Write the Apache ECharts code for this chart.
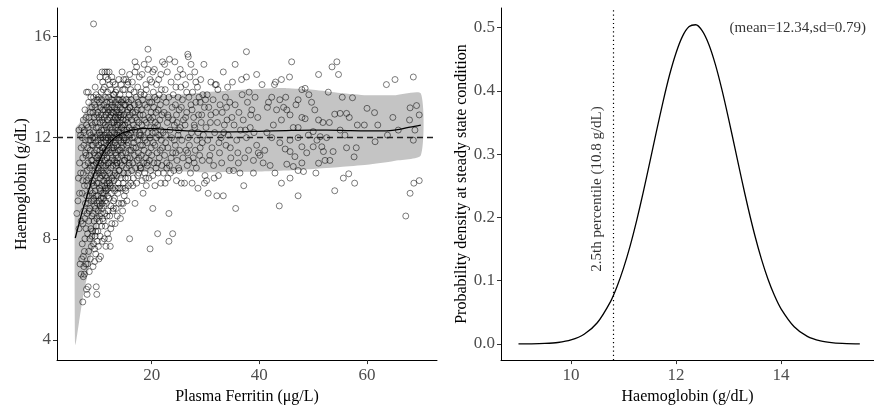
<!DOCTYPE html>
<html>
<head>
<meta charset="utf-8">
<script src="https://cdn.jsdelivr.net/npm/echarts@6/dist/echarts.min.js"></script>
<style>html,body{margin:0;padding:0;background:#fff}#c{width:874px;height:410px}</style>
</head>
<body>
<div id="c"></div>
<script>
// ---- Left panel: Plasma ferritin (µg/L) vs haemoglobin (g/dL) ----
const scatterPoints = [
[6.1,9.0],[6.3,9.5],[6.5,12.3],[6.6,11.0],[6.4,10.4],[6.8,12.1],[6.9,8.7],[6.7,7.0],[6.9,6.6],[7.0,7.2],[6.6,9.8],[6.8,10.6],[6.9,11.6],[7.0,12.4],[6.5,8.4],
[7.2,5.5],[7.3,6.5],[7.4,6.9],[7.1,7.8],[7.5,7.5],[7.6,8.0],[7.2,8.6],[7.8,8.4],[7.4,9.1],[7.7,9.4],[7.1,9.8],[7.5,10.1],[7.9,10.3],[7.3,10.6],[7.6,10.9],[7.2,11.2],[7.8,11.3],[7.4,11.7],[7.7,11.9],[7.1,12.0],[7.5,12.3],[7.9,12.5],[7.3,12.7],[7.8,12.8],[7.6,13.1],[7.9,13.8],[7.4,12.2],[7.7,11.4],[7.2,10.3],[7.9,9.7],[7.6,8.8],[7.3,7.3],[7.8,7.0],[7.5,6.6],[7.9,6.0],
[8.0,5.8],[8.2,6.1],[8.4,6.7],[8.1,7.0],[8.6,7.2],[8.3,7.5],[8.8,7.7],[8.5,8.0],[8.1,8.2],[8.7,8.4],[8.3,8.7],[8.9,8.9],[8.0,9.0],[8.5,9.2],[8.2,9.4],[8.8,9.5],[8.4,9.7],[8.6,9.9],[8.1,10.1],[8.9,10.2],[8.3,10.4],[8.7,10.5],[8.0,10.7],[8.5,10.8],[8.2,11.0],[8.8,11.1],[8.4,11.3],[8.6,11.5],[8.1,11.6],[8.9,11.7],[8.3,11.9],[8.7,12.1],[8.5,12.2],[8.2,12.4],[8.8,12.6],[8.4,12.8],[8.6,13.0],[8.9,13.2],[8.3,13.4],[8.7,13.6],[8.2,13.8],[8.6,11.9],[8.8,10.9],[8.4,9.1],[8.9,8.1],
[9.7,6.1],[9.8,5.8],[9.1,6.9],[9.4,7.1],[9.6,7.4],[9.2,7.8],[9.9,7.9],[9.5,8.1],[9.0,8.3],[9.7,8.5],[9.3,8.7],[9.8,8.8],[9.1,9.0],[9.6,9.2],[9.4,9.3],[9.9,9.4],[9.2,9.6],[9.7,9.7],[9.0,9.8],[9.5,9.9],[9.3,10.1],[9.8,10.2],[9.1,10.3],[9.6,10.5],[9.4,10.6],[9.9,10.7],[9.2,10.9],[9.7,11.0],[9.0,11.1],[9.5,11.3],[9.3,11.4],[9.8,11.5],[9.1,11.7],[9.6,11.8],[9.4,12.0],[9.9,12.1],[9.2,12.2],[9.7,12.4],[9.0,12.5],[9.5,12.6],[9.3,12.8],[9.8,12.9],[9.1,13.0],[9.6,13.2],[9.4,13.3],[9.9,13.5],[9.2,13.6],[9.7,13.7],[9.2,16.5],[9.5,14.0],[9.0,12.0],[9.8,11.2],[9.3,9.5],[9.6,8.3],[9.4,7.6],
[10.2,7.2],[10.5,7.3],[10.1,7.7],[10.8,7.9],[10.4,8.1],[10.0,8.3],[10.7,8.5],[10.3,8.7],[10.9,8.8],[10.6,9.0],[10.1,9.1],[10.4,9.3],[10.8,9.4],[10.2,9.5],[10.6,9.6],[10.0,9.7],[10.9,9.8],[10.5,9.9],[10.3,10.0],[10.7,10.1],[10.1,10.2],[10.4,10.4],[10.8,10.5],[10.2,10.6],[10.6,10.7],[10.0,10.8],[10.9,10.9],[10.5,11.0],[10.3,11.1],[10.7,11.2],[10.1,11.3],[10.4,11.5],[10.8,11.6],[10.2,11.7],[10.6,11.8],[10.0,11.9],[10.9,12.0],[10.5,12.1],[10.3,12.2],[10.7,12.3],[10.1,12.4],[10.4,12.6],[10.8,12.7],[10.2,12.8],[10.6,12.9],[10.0,13.0],[10.9,13.1],[10.5,13.2],[10.3,13.4],[10.7,13.5],[10.1,13.6],[10.6,13.8],[10.9,14.2],[10.4,14.4],[10.8,14.6],[10.5,12.0],[10.2,11.0],[10.7,9.2],[10.3,8.9],[10.9,11.4],
[11.5,7.7],[11.2,8.0],[11.8,8.2],[11.4,8.5],[11.0,8.7],[11.7,8.9],[11.3,9.0],[11.9,9.1],[11.1,9.3],[11.6,9.4],[11.4,9.5],[11.0,9.6],[11.8,9.7],[11.2,9.8],[11.5,9.9],[11.9,10.0],[11.3,10.1],[11.7,10.2],[11.1,10.3],[11.6,10.4],[11.4,10.5],[11.0,10.6],[11.8,10.7],[11.2,10.8],[11.5,10.9],[11.9,11.0],[11.3,11.1],[11.7,11.2],[11.1,11.3],[11.6,11.4],[11.4,11.5],[11.0,11.6],[11.8,11.7],[11.2,11.8],[11.5,11.9],[11.9,12.0],[11.3,12.1],[11.7,12.2],[11.1,12.3],[11.6,12.4],[11.4,12.5],[11.0,12.6],[11.8,12.7],[11.2,12.8],[11.5,12.9],[11.9,13.0],[11.3,13.1],[11.7,13.2],[11.1,13.3],[11.6,13.4],[11.4,13.6],[11.8,13.8],[11.2,14.0],[11.5,14.4],[11.7,14.6],[11.3,14.6],[11.9,14.3],[11.0,13.9],[11.6,12.0],[11.4,10.0],
[12.3,7.7],[12.0,8.0],[12.6,8.6],[12.2,8.9],[12.8,9.1],[12.4,9.3],[12.9,9.5],[12.1,9.6],[12.5,9.8],[12.7,10.0],[12.3,10.1],[12.0,10.3],[12.6,10.4],[12.9,10.5],[12.2,10.6],[12.4,10.8],[12.8,10.9],[12.1,11.0],[12.5,11.1],[12.7,11.2],[12.3,11.4],[12.0,11.5],[12.6,11.6],[12.9,11.7],[12.2,11.8],[12.4,11.9],[12.8,12.0],[12.1,12.1],[12.5,12.2],[12.7,12.3],[12.3,12.4],[12.0,12.5],[12.6,12.6],[12.9,12.7],[12.2,12.8],[12.4,12.9],[12.8,13.0],[12.1,13.1],[12.5,13.2],[12.7,13.3],[12.3,13.4],[12.6,13.5],[12.0,13.6],[12.9,13.7],[12.4,13.9],[12.2,14.1],[12.8,14.2],[12.6,14.4],[12.1,14.6],[12.5,12.0],[12.7,11.5],[12.2,10.2],[12.9,9.2],[12.4,8.4],[12.6,13.0],
[13.2,8.6],[13.6,8.9],[13.4,9.2],[13.9,9.4],[13.1,9.6],[13.7,9.8],[13.3,10.0],[13.8,10.2],[13.0,10.3],[13.5,10.5],[13.2,10.6],[13.9,10.7],[13.4,10.9],[13.6,11.0],[13.1,11.1],[13.7,11.2],[13.3,11.4],[13.8,11.5],[13.0,11.6],[13.5,11.7],[13.2,11.8],[13.9,11.9],[13.4,12.0],[13.6,12.1],[13.1,12.2],[13.7,12.3],[13.3,12.4],[13.8,12.5],[13.0,12.6],[13.5,12.7],[13.2,12.8],[13.9,12.9],[13.4,13.0],[13.6,13.1],[13.1,13.2],[13.7,13.3],[13.3,13.4],[13.8,13.5],[13.0,13.7],[13.5,13.9],[13.2,14.1],[13.9,14.3],[13.6,12.5],[13.4,11.3],[13.8,10.0],[13.1,9.9],[13.7,12.8],[13.3,13.8],[13.5,11.0],[13.9,12.2],
[14.2,8.8],[14.6,9.1],[14.4,9.4],[14.9,9.7],[14.1,10.0],[14.7,10.2],[14.3,10.4],[14.8,10.6],[14.0,10.7],[14.5,10.9],[14.2,11.0],[14.9,11.1],[14.4,11.3],[14.6,11.4],[14.1,11.5],[14.7,11.7],[14.3,11.8],[14.8,11.9],[14.0,12.0],[14.5,12.1],[14.2,12.2],[14.9,12.3],[14.4,12.4],[14.6,12.5],[14.1,12.6],[14.7,12.7],[14.3,12.8],[14.8,12.9],[14.0,13.0],[14.5,13.1],[14.2,13.2],[14.9,13.3],[14.4,13.4],[14.6,13.5],[14.1,13.7],[14.7,13.9],[14.3,14.1],[14.8,14.3],[14.5,14.6],[14.6,10.0],[14.2,12.9],[14.8,12.0],[14.4,11.6],[14.0,13.5],[14.7,9.4],
[15.4,9.5],[15.9,8.0],[15.2,9.9],[15.7,10.1],[15.1,10.4],[15.6,10.6],[15.3,10.8],[15.8,10.9],[15.0,11.1],[15.5,11.2],[15.2,11.4],[15.9,11.5],[15.4,11.7],[15.6,11.8],[15.1,12.0],[15.7,12.1],[15.3,12.2],[15.8,12.4],[15.0,12.5],[15.5,12.6],[15.2,12.7],[15.9,12.9],[15.4,13.0],[15.6,13.1],[15.1,13.3],[15.7,13.4],[15.3,13.5],[15.8,13.7],[15.0,13.9],[15.5,14.1],[15.2,14.3],[15.9,14.5],[15.6,14.2],[15.4,12.3],[15.8,11.0],[15.1,10.0],[15.7,12.8],[15.3,11.9],[15.6,10.4],[15.9,13.2],
[16.9,9.4],[16.1,10.2],[17.2,10.2],[16.6,10.4],[17.6,10.6],[16.3,10.7],[17.0,10.8],[17.8,10.9],[16.5,11.0],[17.3,11.1],[16.0,11.2],[16.8,11.3],[17.5,11.4],[16.2,11.5],[17.1,11.6],[17.9,11.7],[16.7,11.8],[17.4,11.9],[16.4,12.0],[17.7,12.1],[16.1,12.2],[16.9,12.3],[17.2,12.4],[16.6,12.5],[17.6,12.6],[16.3,12.7],[17.0,12.8],[17.8,12.9],[16.5,13.0],[17.3,13.1],[16.0,13.2],[16.8,13.3],[17.5,13.4],[16.2,13.5],[17.1,13.6],[17.9,13.7],[16.7,13.8],[17.4,14.0],[16.4,14.2],[17.7,14.4],[16.9,14.6],[17.2,14.8],[16.9,15.0],[17.6,11.2],[16.3,12.3],[17.0,13.0],[17.8,12.2],[16.6,11.6],[17.4,10.5],[16.1,13.9],[17.9,10.8],[16.8,12.0],[17.3,12.7],[16.5,10.1],[17.6,13.3],
[19.7,7.6],[18.4,9.8],[19.0,10.1],[18.2,10.3],[19.5,10.4],[18.7,10.6],[19.8,10.7],[18.0,10.8],[19.2,10.9],[18.5,11.0],[19.6,11.1],[18.9,11.2],[18.1,11.3],[19.4,11.4],[18.6,11.5],[19.9,11.6],[18.3,11.7],[19.1,11.8],[18.8,11.9],[19.7,12.0],[18.0,12.1],[19.3,12.2],[18.5,12.3],[19.8,12.4],[18.2,12.5],[19.0,12.6],[18.7,12.7],[19.5,12.8],[18.4,12.9],[19.9,13.0],[18.1,13.1],[19.2,13.2],[18.8,13.3],[19.6,13.4],[18.3,13.5],[19.4,13.6],[18.6,13.7],[19.0,13.9],[18.9,14.1],[19.7,14.3],[18.2,14.5],[19.3,14.7],[18.6,14.9],[19.4,15.1],[19.3,15.5],[18.5,12.0],[19.1,11.0],[18.0,13.8],[19.8,12.7],[18.9,10.4],
[20.2,9.2],[21.1,8.2],[20.6,10.1],[21.7,10.2],[20.2,10.5],[21.2,10.6],[20.8,10.8],[21.9,10.9],[20.4,11.0],[21.4,11.2],[20.0,11.3],[21.0,11.4],[21.6,11.5],[20.6,11.7],[20.3,11.8],[21.8,11.9],[20.9,12.0],[21.3,12.1],[20.1,12.2],[21.7,12.3],[20.5,12.4],[21.1,12.5],[20.7,12.6],[21.5,12.7],[20.2,12.8],[21.9,12.9],[20.8,13.0],[21.2,13.1],[20.4,13.2],[21.6,13.3],[20.0,13.4],[21.0,13.5],[20.6,13.6],[21.4,13.7],[20.3,13.8],[21.8,13.9],[20.9,14.1],[21.3,14.3],[20.2,14.6],[20.5,14.7],[21.7,14.5],[20.0,14.2],[22.0,15.0],[21.1,11.0],[20.7,12.2],
[23.2,7.9],[23.9,8.2],[23.2,9.0],[22.5,10.2],[24.6,10.3],[23.0,10.4],[25.5,10.2],[22.2,10.6],[24.1,10.7],[25.0,10.8],[23.3,10.9],[22.8,11.0],[24.7,11.1],[25.8,11.2],[22.4,11.3],[23.9,11.4],[25.2,11.5],[23.0,11.6],[24.4,11.7],[22.6,11.8],[25.6,11.9],[23.7,12.0],[24.9,12.1],[22.1,12.2],[23.4,12.3],[25.3,12.4],[24.2,12.5],[22.9,12.6],[25.9,12.7],[23.1,12.8],[24.6,12.9],[22.3,13.0],[25.1,13.1],[23.8,13.2],[24.4,13.3],[22.7,13.4],[25.7,13.5],[23.2,13.6],[24.0,13.7],[22.5,13.9],[25.4,14.0],[23.6,14.2],[24.8,14.4],[22.9,14.6],[25.3,14.7],[24.3,15.0],[23.3,15.1],[22.4,14.9],[25.8,14.5],[23.9,12.7],[24.5,11.4],[22.0,11.6],[25.0,12.3],[23.5,10.6],[24.9,13.6],
[22.6,12.1],[23.6,11.2],[24.7,12.6],[25.5,13.2],[22.2,13.6],[23.0,12.9],[24.2,11.9],[25.1,10.7],[22.8,10.8],[24.5,14.0],
[26.7,15.3],[26.8,15.2],[29.7,14.9],[28.0,14.6],[27.1,14.4],[29.1,14.3],[26.3,14.1],[28.5,14.0],[27.6,13.8],[29.5,13.7],[26.9,13.6],[28.2,13.4],[27.3,13.3],[29.8,13.2],[26.5,13.0],[28.7,12.9],[27.8,12.8],[29.2,12.6],[26.2,12.5],[28.0,12.4],[27.4,12.2],[29.6,12.1],[26.8,12.0],[28.4,11.9],[27.0,11.7],[29.0,11.6],[26.4,11.5],[28.9,11.3],[27.7,11.2],[29.4,11.1],[26.6,10.9],[28.3,10.8],[27.2,10.6],[29.9,10.5],[26.1,10.2],[27.5,10.2],[28.6,10.0],[29.8,10.2],[27.9,12.5],[26.9,11.1],[28.8,13.6],[27.3,14.9],[29.3,12.9],[26.5,13.8],[28.1,11.5],
[26.3,12.8],[27.5,13.1],[28.6,12.2],[29.4,11.8],[26.7,11.4],[27.9,11.0],[29.0,13.4],[28.2,14.2],
[30.5,9.8],[32.1,9.7],[33.3,9.7],[32.4,10.5],[34.4,10.7],[30.2,10.3],[31.5,10.9],[33.0,11.0],[34.7,11.2],[30.8,11.3],[32.6,11.4],[31.2,11.6],[33.8,11.7],[30.4,11.9],[32.9,12.0],[34.2,12.1],[31.7,12.2],[30.1,12.4],[33.5,12.5],[32.2,12.6],[34.9,12.8],[31.0,12.9],[33.1,13.0],[30.6,13.2],[32.7,13.3],[34.5,13.4],[31.4,13.5],[33.7,13.6],[30.3,13.7],[32.3,13.9],[34.1,14.0],[31.8,14.1],[32.0,14.1],[33.3,14.6],[31.0,14.2],[30.9,12.6],[32.5,11.8],[34.0,12.7],[31.6,10.4],[33.9,13.2],
[30.7,11.1],[31.9,13.0],[33.4,12.2],[34.6,11.6],[30.0,13.5],
[35.6,9.2],[37.1,10.1],[36.4,10.6],[38.9,10.6],[35.2,10.7],[38.0,11.5],[37.3,11.2],[38.9,11.1],[36.0,11.4],[39.5,11.7],[35.8,11.9],[37.6,12.0],[39.0,12.2],[36.5,12.3],[38.3,12.4],[35.3,12.5],[37.0,12.7],[39.7,12.8],[36.2,13.0],[38.6,13.1],[35.5,13.3],[37.8,13.4],[39.2,13.6],[36.8,13.7],[38.1,13.8],[35.0,14.2],[36.7,14.3],[37.6,14.4],[39.5,14.5],[35.5,14.9],[37.6,15.4],[38.4,12.9],[36.1,11.0],[39.8,11.4],[37.4,12.3],
[40.7,11.0],[40.1,11.3],[41.0,11.5],[41.4,12.2],[41.7,13.4],[42.0,10.9],[42.3,13.6],[42.3,12.0],[42.6,12.5],[42.9,10.6],[43.0,14.2],[43.2,13.1],[43.7,9.3],[43.8,13.5],[43.8,11.8],[44.1,14.3],[44.1,12.7],[44.1,10.2],[44.5,13.2],[44.8,11.55],[45.1,13.1],[45.1,10.95],[45.6,14.4],[45.7,12.9],[45.7,11.45],[45.7,11.9],[45.7,10.4],[46.0,15.0],[46.3,12.4],[46.3,10.86],[46.6,11.25],[47.2,12.4],[47.2,13.5],[47.2,10.7],[47.2,9.7],[47.2,12.0],[47.9,13.9],[47.9,12.8],[47.9,11.64],[47.9,11.0],[48.2,10.66],[48.5,13.95],[48.5,12.75],[48.8,11.4],[49.1,12.1],[49.7,13.4],[50.0,11.64],[50.0,12.24],[50.3,13.1],[50.5,10.6],[50.7,11.9],[51.0,12.7],[51.0,10.99],[51.0,14.5],[51.3,12.04],[51.6,11.64],[51.8,12.6],[51.9,11.45],[52.2,11.1],[52.5,12.0],[53.0,12.6],[53.1,11.1],[53.5,14.8],[53.7,11.45],[54.0,12.93],[54.0,9.9],[54.4,15.0],[54.7,14.5],[55.0,12.96],[55.0,12.3],[55.6,10.4],[55.9,12.1],[56.2,12.96],[56.2,11.6],[56.6,10.57],[56.7,12.8],[57.3,13.58],[57.6,11.24],[57.7,10.2],[58.0,11.6],[58.2,12.5],[60.0,13.16],[61.4,12.99],[61.5,11.84],[62.0,12.5],[63.6,14.1],[63.8,12.1],[64.8,12.8],[65.2,14.3],[65.8,12.3],[67.2,8.9],[67.9,12.7],[68.0,13.18],[68.0,9.8],[68.6,14.4],[68.6,11.9],[68.7,10.2],[68.9,12.3],[69.2,13.27],[69.7,12.9],[69.7,10.3],[41.5,13.2],[40.5,14.1],[42.8,14.1],[44.9,13.6],[46.8,13.3],[49.2,13.7],[52.8,13.8],[55.4,13.6],[59.5,12.5]
];

// smoother fit and its confidence band
const fitX = [5.8,6.5,7,7.5,8,8.5,9,10,11,12,13,14,15,16,17,18,20,22,25,30,35,40,45,50,55,60,63,66,68,70];
const fitY = [8.03,8.6,9.0,9.35,9.7,10.05,10.4,10.95,11.4,11.75,11.98,12.12,12.22,12.28,12.33,12.36,12.37,12.34,12.29,12.24,12.23,12.25,12.28,12.3,12.29,12.27,12.27,12.33,12.42,12.5];
const bandX = [5.8,6.5,7,7.5,8,9,10,11,12,14,16,18,20,25,30,35,40,45,50,55,60,65,70];
const bandUpper = [12.35,12.55,12.75,13.0,13.25,13.55,13.65,13.67,13.67,13.66,13.65,13.65,13.66,13.7,13.8,13.88,13.93,13.96,13.9,13.77,13.68,13.68,13.75];
const bandLower = [3.8,4.7,5.4,6.0,6.5,7.6,8.6,9.3,9.8,10.35,10.55,10.63,10.66,10.66,10.63,10.64,10.66,10.7,10.76,10.84,10.93,11.08,11.3];
const cutoffHb = 12;

// ---- Right panel: density of haemoglobin at steady state ----
const densX = [9,9.25,9.5,9.75,10,10.25,10.5,10.75,10.875,11,11.125,11.25,11.375,11.5,11.625,11.75,11.875,12,12.125,12.25,12.375,12.5,12.625,12.75,12.875,13,13.125,13.25,13.375,13.5,13.625,13.75,13.875,14,14.25,14.5,14.75,15,15.25,15.5];
const densY = [0.0001,0.0002,0.0008,0.0023,0.0063,0.0153,0.0335,0.0666,0.0905,0.1199,0.1547,0.195,0.2395,0.287,0.3353,0.382,0.4247,0.460,0.4866,0.5017,0.5045,0.4947,0.4732,0.4414,0.4015,0.3562,0.3083,0.260,0.2141,0.1718,0.1345,0.1027,0.0765,0.0556,0.0272,0.0120,0.0048,0.0017,0.0006,0.0002];
const percentile = 10.8;
const percentileLabel = '2.5th percentile (10.8 g/dL)';
const statsLabel = '(mean=12.34,sd=0.79)';

const SERIF = '"Liberation Serif","Times New Roman",serif';
const tickLbl = {color:'#4d4d4d', fontFamily:SERIF, fontSize:17};
const titleTxt = {color:'#000', fontFamily:SERIF, fontSize:16};
const axLine = {onZero:false, lineStyle:{color:'#000', width:1}};
const tick = (vals)=>({length:4, lineStyle:{color:'#333', width:1}, customValues:vals});

const chart = echarts.init(document.getElementById('c'), null, {renderer:'canvas'});
chart.setOption({
  animation:false,
  backgroundColor:'#fff',
  grid:[
    {left:57, right:437, top:8, bottom:49},
    {left:501, right:0, top:8, bottom:44}
  ],
  xAxis:[
    {gridIndex:0, type:'value', min:2.41, max:73, name:'Plasma Ferritin (μg/L)', nameLocation:'middle', nameGap:28, nameTextStyle:titleTxt,
     axisLine:axLine, axisTick:tick([20,40,60]), axisLabel:Object.assign({customValues:[20,40,60], margin:7}, tickLbl), splitLine:{show:false}},
    {gridIndex:1, type:'value', min:8.667, max:15.77, name:'Haemoglobin (g/dL)', nameLocation:'middle', nameGap:24, nameTextStyle:titleTxt,
     axisLine:axLine, axisTick:tick([10,12,14]), axisLabel:Object.assign({customValues:[10,12,14], margin:7}, tickLbl), splitLine:{show:false}}
  ],
  yAxis:[
    {gridIndex:0, type:'value', min:3.2, max:17.13, name:'Haemoglobin (g/dL)', nameLocation:'middle', nameGap:20, nameTextStyle:titleTxt,
     axisLine:axLine, axisTick:tick([4,8,12,16]), axisLabel:Object.assign({customValues:[4,8,12,16], margin:6}, tickLbl), splitLine:{show:false}},
    {gridIndex:1, type:'value', min:-0.0255, max:0.531, name:'Probability density at steady state condition', nameLocation:'middle', nameGap:31, nameTextStyle:titleTxt,
     axisLine:axLine, axisTick:tick([0,0.1,0.2,0.3,0.4,0.5]), axisLabel:Object.assign({customValues:[0,0.1,0.2,0.3,0.4,0.5], margin:6, formatter:v=>v.toFixed(1)}, tickLbl), splitLine:{show:false}}
  ],
  series:[
    {type:'custom', xAxisIndex:0, yAxisIndex:0, z:1, silent:true, data:[[bandX[0], bandUpper[0]]],
     renderItem:function(params, api){
       const pts = [];
       for (let i=0;i<bandX.length;i++) pts.push(api.coord([bandX[i], bandUpper[i]]));
       for (let i=bandX.length-1;i>=0;i--) pts.push(api.coord([bandX[i], bandLower[i]]));
       return {type:'polygon', shape:{points:pts, smooth:0.2}, style:{fill:'#c4c4c4'}};
     }},
    {type:'scatter', xAxisIndex:0, yAxisIndex:0, z:2, symbol:'circle', symbolSize:6, silent:true,
     itemStyle:{color:'rgba(0,0,0,0)', borderColor:'rgba(0,0,0,0.64)', borderWidth:1},
     data:scatterPoints},
    {type:'line', xAxisIndex:0, yAxisIndex:0, z:3, symbol:'none', smooth:0.3, silent:true,
     lineStyle:{color:'#000', width:1.3},
     data:fitX.map((x,i)=>[x, fitY[i]]),
     markLine:{silent:true, symbol:['none','none'], label:{show:false},
       lineStyle:{color:'#222', width:1.3, type:[6,4]}, data:[{yAxis:cutoffHb}]}},
    {type:'line', xAxisIndex:1, yAxisIndex:1, z:3, symbol:'none', smooth:0.25, silent:true,
     lineStyle:{color:'#000', width:1.3},
     data:densX.map((x,i)=>[x, densY[i]]),
     markLine:{silent:true, symbol:['none','none'], label:{show:false},
       lineStyle:{color:'#000', width:1.2, type:[1.2,3]}, data:[{xAxis:percentile}]}},
    {type:'scatter', xAxisIndex:1, yAxisIndex:1, z:4, symbolSize:0, silent:true,
     data:[
       {value:[10.49, 0.245], label:{show:true, position:'inside', rotate:90, formatter:percentileLabel, color:'#000', fontFamily:SERIF, fontSize:15}},
       {value:[14.32, 0.5], label:{show:true, position:'inside', formatter:statsLabel, color:'#000', fontFamily:SERIF, fontSize:15}}
     ]}
  ]
});
</script>
</body>
</html>
